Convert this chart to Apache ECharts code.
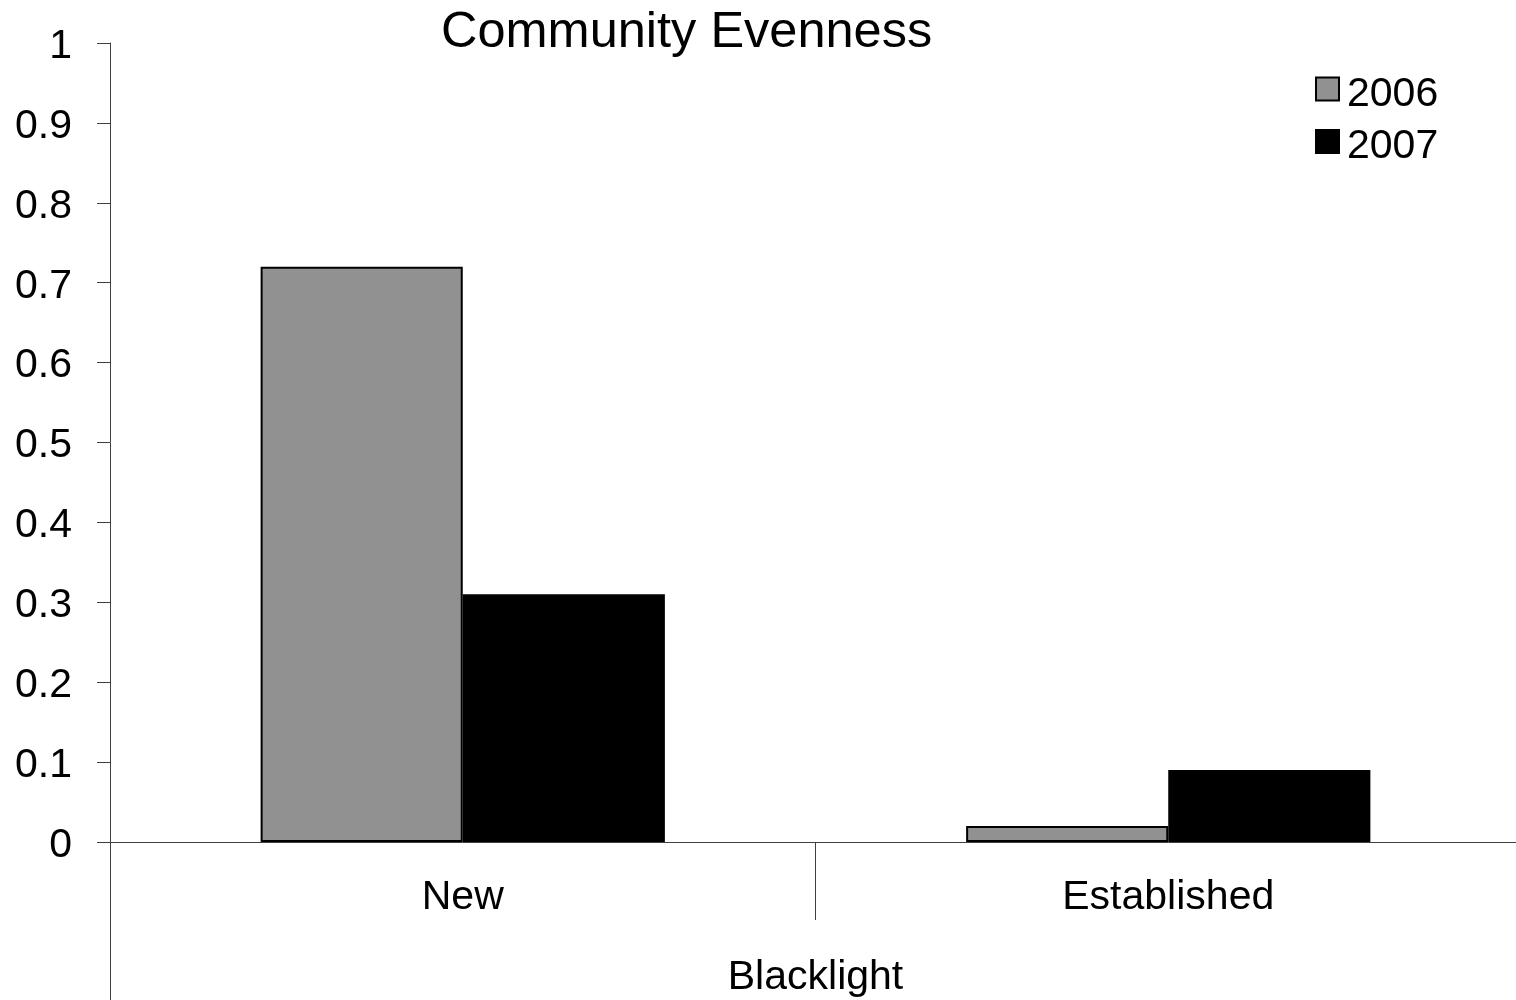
<!DOCTYPE html>
<html>
<head>
<meta charset="utf-8">
<title>Community Evenness</title>
<script src="https://cdn.jsdelivr.net/npm/echarts@6/dist/echarts.min.js"></script>
<style>
  html, body { margin: 0; padding: 0; background: #fff; overflow: hidden; }
  /* the plot area runs a few pixels past the right edge of the window */
  #chart { width: 1521px; height: 1000px; }
</style>
</head>
<body>
<div id="chart"></div>
<script>
// Blacklight trap sites, grouped by site age
const categories = ['New', 'Established'];
const groupLabel = ['Blacklight'];
const evenness2006 = [0.72, 0.02];
const evenness2007 = [0.31, 0.09];

const FONT = "'Liberation Sans', Arial, sans-serif";
const AXIS_COLOR = '#404040';

const chart = echarts.init(document.getElementById('chart'), null, { renderer: 'canvas' });

chart.setOption({
  backgroundColor: '#ffffff',
  animation: false,
  textStyle: { fontFamily: FONT, color: '#000' },
  title: {
    text: 'Community Evenness',
    left: 441,
    top: 8,
    padding: 0,
    textStyle: { fontFamily: FONT, fontSize: 50.5, fontWeight: 'normal', color: '#000' }
  },
  legend: {
    orient: 'vertical',
    left: 1315,
    top: 74,
    padding: 0,
    itemWidth: 23,
    itemHeight: 23,
    itemGap: 11.5,
    icon: 'rect',
    formatter: '{t|{name}}',
    textStyle: {
      fontFamily: FONT, fontSize: 41, color: '#000',
      rich: { t: { fontFamily: FONT, fontSize: 41, color: '#000', padding: [11, 0, 0, 3] } }
    },
    data: ['2006', '2007']
  },
  grid: { left: 110, top: 43, bottom: 158, right: 0, containLabel: false },
  xAxis: [
    {
      type: 'category',
      data: categories,
      position: 'bottom',
      axisLine: { show: true, lineStyle: { color: AXIS_COLOR, width: 1 } },
      axisTick: { show: true, length: 78, lineStyle: { color: AXIS_COLOR, width: 1 } },
      axisLabel: { fontFamily: FONT, fontSize: 41, color: '#000', margin: 35 },
      splitLine: { show: false }
    },
    {
      type: 'category',
      data: groupLabel,
      position: 'bottom',
      axisLine: { show: false },
      axisTick: { show: true, length: 170, lineStyle: { color: AXIS_COLOR, width: 1 } },
      axisLabel: { fontFamily: FONT, fontSize: 41, color: '#000', margin: 115 },
      splitLine: { show: false }
    }
  ],
  yAxis: {
    type: 'value',
    min: 0,
    max: 1,
    interval: 0.1,
    axisLine: { show: true, lineStyle: { color: AXIS_COLOR, width: 1 } },
    axisTick: { show: true, inside: false, length: 13, lineStyle: { color: AXIS_COLOR, width: 1 } },
    axisLabel: {
      fontFamily: FONT, fontSize: 41, color: '#000', margin: 38,
      verticalAlign: 'top', lineHeight: 7
    },
    splitLine: { show: false }
  },
  series: [
    {
      name: '2006',
      type: 'bar',
      xAxisIndex: 0,
      data: evenness2006,
      barGap: '0%',
      barCategoryGap: '42.7%',
      itemStyle: { color: '#919191', borderColor: '#000', borderWidth: 2 }
    },
    {
      name: '2007',
      type: 'bar',
      xAxisIndex: 0,
      data: evenness2007,
      barGap: '0%',
      barCategoryGap: '42.7%',
      itemStyle: { color: '#000000', borderColor: '#000', borderWidth: 2 }
    }
  ]
});
</script>
</body>
</html>
